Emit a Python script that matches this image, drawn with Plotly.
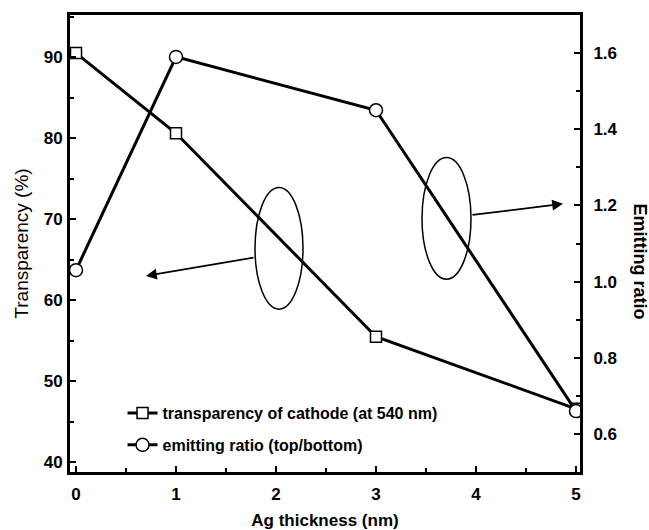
import plotly.graph_objects as go

# ---- data ----
ag_thickness = [0, 1, 3, 5]
transparency = [90.5, 80.6, 55.5, 46.6]
emitting_ratio = [1.03, 1.59, 1.45, 0.66]
x_ticks = [0, 1, 2, 3, 4, 5]
left_ticks = [40, 50, 60, 70, 80, 90]
right_ticks = [0.6, 0.8, 1.0, 1.2, 1.4, 1.6]

FONT = "Liberation Sans, Arial, sans-serif"

fig = go.Figure()
fig.add_trace(go.Scatter(
    x=ag_thickness, y=transparency, mode="lines+markers",
    name="transparency of cathode (at 540 nm)",
    line=dict(color="black", width=3),
    marker=dict(symbol="square", size=11, color="white",
                line=dict(color="black", width=1.5)),
    legendgroup="a",
))
fig.add_trace(go.Scatter(
    x=ag_thickness, y=emitting_ratio, mode="lines+markers", yaxis="y2",
    name="emitting ratio (top/bottom)",
    line=dict(color="black", width=3),
    marker=dict(symbol="circle", size=13, color="white",
                line=dict(color="black", width=1.5)),
    legendgroup="b",
))

tickfont = dict(family=FONT, size=17, color="black", weight="bold")

fig.update_layout(
    width=649, height=530,
    margin=dict(l=70, r=69, t=15, b=58, autoexpand=False),
    paper_bgcolor="white", plot_bgcolor="white",
    font=dict(family=FONT, color="black"),
    showlegend=True,
    legend=dict(x=0.103, y=0.166, xanchor="left", yanchor="top",
                bgcolor="rgba(0,0,0,0)", traceorder="grouped",
                tracegroupgap=8,
                font=dict(family=FONT, size=16, color="black", weight="bold")),
    xaxis=dict(
        range=[-0.06, 5.04], tickvals=x_ticks, ticks="inside", ticklen=6,
        tickwidth=2, tickcolor="black", ticklabelstandoff=5, automargin=False,
        minor=dict(dtick=0.5, ticks="inside", ticklen=4, tickwidth=2, tickcolor="black"),
        showline=True, linecolor="black", linewidth=3, mirror=True,
        showgrid=False, zeroline=False, tickfont=tickfont,
        title=dict(text="Ag thickness (nm)", standoff=14,
                   font=dict(family=FONT, size=17, color="black", weight="bold")),
    ),
    yaxis=dict(
        range=[38.8, 95.2], tickvals=left_ticks, ticks="inside", ticklen=6,
        tickwidth=2, tickcolor="black", ticklabelstandoff=1, automargin=False,
        minor=dict(dtick=5, ticks="inside", ticklen=4, tickwidth=2, tickcolor="black"),
        showline=True, linecolor="black", linewidth=3,
        showgrid=False, zeroline=False, tickfont=tickfont,
        title=dict(text="Transparency (%)", standoff=11,
                   font=dict(family=FONT, size=19, color="black")),
    ),
    yaxis2=dict(
        overlaying="y", side="right", automargin=False,
        range=[0.50, 1.70], tickvals=right_ticks, tickformat=".1f",
        ticks="inside", ticklen=6, tickwidth=2, tickcolor="black",
        ticklabelstandoff=7,
        minor=dict(dtick=0.1, ticks="inside", ticklen=4, tickwidth=2, tickcolor="black"),
        showline=True, linecolor="black", linewidth=3,
        showgrid=False, zeroline=False, tickfont=tickfont,
    ),
)

# right axis title (reads top to bottom)
fig.add_annotation(
    text="Emitting ratio", xref="paper", yref="paper", x=1.118, y=0.46,
    xanchor="center", yanchor="middle",
    textangle=90, showarrow=False,
    font=dict(family=FONT, size=18, color="black", weight="bold"),
)

# ellipses grouping the curves with their axes
fig.add_shape(type="circle", xref="x", yref="y", x0=1.79, x1=2.27, y0=58.9, y1=73.9,
              line=dict(color="black", width=1.5))
fig.add_shape(type="circle", xref="x", yref="y", x0=3.46, x1=3.95, y0=62.6, y1=77.6,
              line=dict(color="black", width=1.5))

# arrows
fig.add_annotation(x=0.70, y=63.0, ax=1.79, ay=65.3, xref="x", yref="y",
                   axref="x", ayref="y", text="", showarrow=True,
                   arrowhead=2, arrowsize=1.2, arrowwidth=1.8, arrowcolor="black")
fig.add_annotation(x=4.87, y=71.9, ax=3.95, ay=70.5, xref="x", yref="y",
                   axref="x", ayref="y", text="", showarrow=True,
                   arrowhead=2, arrowsize=1.2, arrowwidth=1.8, arrowcolor="black")

fig.write_html("out.html")
